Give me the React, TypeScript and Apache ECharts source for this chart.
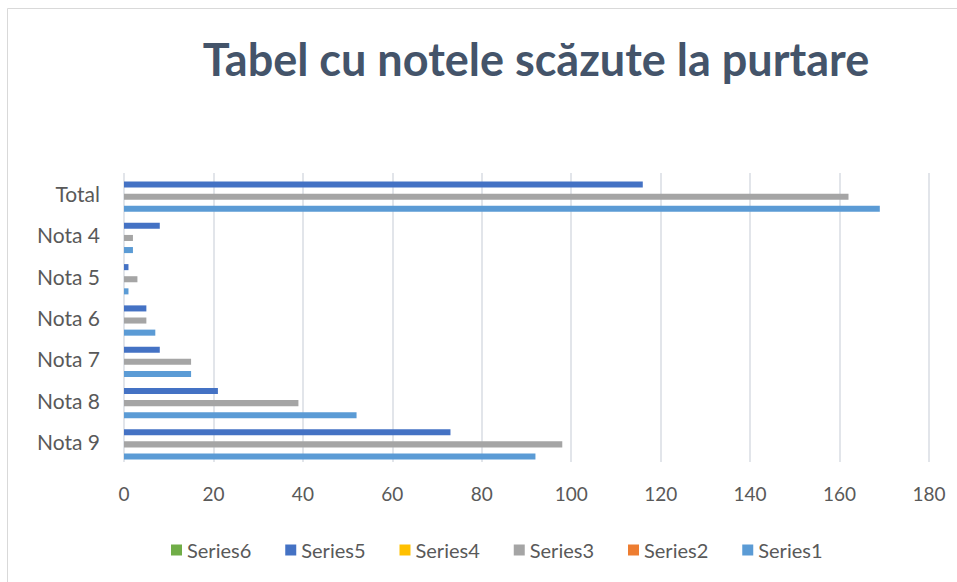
import React, { useEffect, useRef } from "react";
import * as echarts from "echarts";

const categories = ["Nota 9", "Nota 8", "Nota 7", "Nota 6", "Nota 5", "Nota 4", "Total"];
const seriesNames = ["Series1", "Series2", "Series3", "Series4", "Series5", "Series6"];
const series1 = [92, 52, 15, 7, 1, 2, 169];
const series2 = [0, 0, 0, 0, 0, 0, 0];
const series3 = [98, 39, 15, 5, 3, 2, 162];
const series4 = [0, 0, 0, 0, 0, 0, 0];
const series5 = [73, 21, 8, 5, 1, 8, 116];
const series6 = [0, 0, 0, 0, 0, 0, 0];
const colors = ["#5B9BD5", "#ED7D31", "#A5A5A5", "#FFC000", "#4472C4", "#70AD47"];
const legendOrder = ["Series6", "Series5", "Series4", "Series3", "Series2", "Series1"];

export default function App() {
  const ref = useRef<HTMLDivElement>(null);
  useEffect(() => {
    document.body.style.margin = "0";
    const chart = echarts.init(ref.current!, null, { renderer: "svg" });
    const values = [series1, series2, series3, series4, series5, series6];
    const font = "Lato, 'Open Sans', sans-serif";
    // ECharts puts the first declared bar series at the top of a horizontal band,
    // so declare them in reverse to put Series1 at the bottom like the reference.
    const order = [5, 4, 3, 2, 1, 0];
    chart.setOption({
      animation: false,
      backgroundColor: "#ffffff",
      textStyle: { fontFamily: font },
      title: {
        text: "Tabel cu notele scăzute la purtare",
        left: 531,
        textAlign: "center",
        top: 31,
        textStyle: { fontSize: 45, fontWeight: "bold", color: "#44546A", fontFamily: font },
      },
      graphic: [
        {
          type: "rect",
          shape: { x: 7.5, y: 8.5, width: 1000, height: 1000 },
          style: { fill: "none", stroke: "#D9D9D9", lineWidth: 1 },
          silent: true,
        },
      ],
      legend: {
        data: legendOrder,
        top: 535,
        left: 166,
        icon: "rect",
        itemWidth: 11,
        itemHeight: 11,
        itemGap: 34,
        textStyle: { fontSize: 20, color: "#595959", fontFamily: font },
      },
      grid: { left: 124, right: 28, top: 173, bottom: 120, containLabel: false },
      xAxis: {
        type: "value",
        min: 0,
        max: 180,
        interval: 20,
        axisLine: { show: false },
        axisTick: { show: false },
        axisLabel: { fontSize: 19, color: "#595959", margin: 22, fontFamily: font },
        splitLine: { show: true, lineStyle: { color: "#D9DCE3", width: 1.5 } },
      },
      yAxis: {
        type: "category",
        data: categories,
        axisLine: { show: false },
        axisTick: { show: false },
        axisLabel: { fontSize: 21, color: "#595959", margin: 24, fontFamily: font },
        splitLine: { show: false },
      },
      series: order.map((i) => ({
        name: seriesNames[i],
        type: "bar",
        data: values[i],
        itemStyle: { color: colors[i] },
        barGap: "0%",
        barCategoryGap: "12%",
      })),
    });
    return () => chart.dispose();
  }, []);
  return <div ref={ref} style={{ width: 957, height: 582 }} />;
}
